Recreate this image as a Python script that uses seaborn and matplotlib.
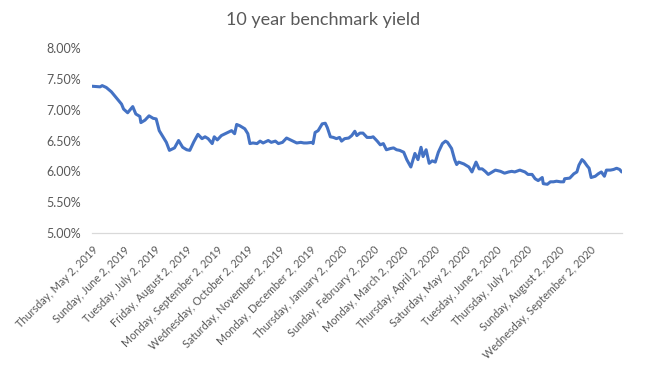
import pandas as pd
import numpy as np
import matplotlib
matplotlib.use("Agg")
import matplotlib.pyplot as plt
import seaborn as sns

start_date = "2019-05-02"
day_offset = [0, 8, 10, 14, 19, 24, 29, 31, 35, 40, 43, 47, 48, 52, 56, 60, 63, 66, 70, 73,
              76, 81, 85, 89, 93, 96, 100, 104, 108, 111, 114, 118, 120, 123, 127, 132, 137, 140, 142, 145,
              150, 153, 155, 158, 162, 165, 168, 173, 176, 180, 183, 187, 191, 196, 201, 205, 208, 211, 216, 217,
              219, 222, 226, 229, 231, 234, 237, 240, 243, 245, 248, 252, 255, 258, 260, 263, 266, 270, 274, 276,
              280, 283, 286, 289, 293, 296, 299, 302, 306, 309, 313, 317, 320, 323, 325, 328, 331, 334, 337, 340,
              344, 347, 349, 353, 356, 358, 360, 365, 370, 373, 377, 380, 383, 386, 389, 393, 396, 401, 405, 409,
              412, 415, 420, 425, 428, 432, 435, 438, 442, 443, 447, 450, 453, 456, 460, 463, 464, 469, 473, 476,
              478, 481, 483, 486, 488, 490, 494, 497, 500, 503, 505, 509, 512, 515, 518, 520]
yield_pct = [7.38, 7.37, 7.39, 7.36, 7.29, 7.19, 7.09, 7.01, 6.95, 7.05, 6.93, 6.89, 6.79, 6.83, 6.90, 6.86, 6.85, 6.66, 6.55, 6.47,
             6.34, 6.38, 6.50, 6.39, 6.35, 6.34, 6.48, 6.60, 6.53, 6.56, 6.53, 6.45, 6.56, 6.51, 6.58, 6.62, 6.66, 6.61, 6.76, 6.74,
             6.69, 6.61, 6.45, 6.46, 6.45, 6.49, 6.46, 6.50, 6.47, 6.49, 6.45, 6.47, 6.54, 6.50, 6.46, 6.47, 6.46, 6.46, 6.47, 6.45,
             6.63, 6.66, 6.77, 6.78, 6.71, 6.56, 6.55, 6.53, 6.55, 6.49, 6.53, 6.54, 6.58, 6.65, 6.58, 6.62, 6.62, 6.55, 6.55, 6.56,
             6.49, 6.43, 6.45, 6.35, 6.37, 6.38, 6.35, 6.34, 6.31, 6.19, 6.07, 6.29, 6.19, 6.39, 6.24, 6.35, 6.13, 6.17, 6.15, 6.31,
             6.45, 6.49, 6.47, 6.37, 6.19, 6.11, 6.15, 6.12, 6.07, 5.99, 6.15, 6.04, 6.04, 6.00, 5.95, 5.99, 6.02, 6.00, 5.97, 5.99,
             6.00, 5.99, 6.02, 5.99, 5.95, 5.95, 5.88, 5.85, 5.90, 5.80, 5.79, 5.83, 5.83, 5.84, 5.83, 5.83, 5.88, 5.89, 5.96, 5.99,
             6.10, 6.19, 6.16, 6.09, 6.05, 5.90, 5.92, 5.96, 5.99, 5.92, 6.02, 6.02, 6.03, 6.05, 6.03, 5.99]

tick_dates = ["2019-05-02", "2019-06-02", "2019-07-02", "2019-08-02", "2019-09-02", "2019-10-02",
              "2019-11-02", "2019-12-02", "2020-01-02", "2020-02-02", "2020-03-02", "2020-04-02",
              "2020-05-02", "2020-06-02", "2020-07-02", "2020-08-02", "2020-09-02"]
tick_labels = ["Thursday, May 2, 2019", "Sunday, June 2, 2019", "Tuesday, July 2, 2019",
               "Friday, August 2, 2019", "Monday, September 2, 2019", "Wednesday, October 2, 2019",
               "Saturday, November 2, 2019", "Monday, December 2, 2019", "Thursday, January 2, 2020",
               "Sunday, February 2, 2020", "Monday, March 2, 2020", "Thursday, April 2, 2020",
               "Saturday, May 2, 2020", "Tuesday, June 2, 2020", "Thursday, July 2, 2020",
               "Sunday, August 2, 2020", "Wednesday, September 2, 2020"]
y_ticks = [5.0, 5.5, 6.0, 6.5, 7.0, 7.5, 8.0]
title = "10 year benchmark yield"

dates = pd.Timestamp(start_date) + pd.to_timedelta(day_offset, unit="D")
df = pd.DataFrame({"date": dates, "yield": yield_pct})

sns.set_theme(style="white")
plt.rcParams["font.family"] = ["Lato", "DejaVu Sans"]
text_color = "#595959"

fig = plt.figure(figsize=(6.46, 3.70), dpi=100)
ax = fig.add_axes([92 / 646, 1 - 233 / 370, (621.7 - 92) / 646, (233 - 48) / 370])

sns.lineplot(data=df, x="date", y="yield", ax=ax, color="#4472C4", linewidth=2.2)

ax.set_xlim(pd.Timestamp(start_date), dates[-1])
ax.set_ylim(5.0, 8.0)
ax.set_yticks(y_ticks)
ax.set_yticklabels([f"{v:.2f}%" for v in y_ticks], color=text_color, fontsize=9)
ax.set_xticks(pd.to_datetime(tick_dates))
ax.set_xticklabels(tick_labels, rotation=45, ha="right", rotation_mode="anchor",
                   color=text_color, fontsize=7.8)
ax.tick_params(axis="x", length=4, width=0.8, color="#D9D9D9", direction="out", pad=4)
ax.tick_params(axis="y", length=0, pad=8)
ax.set_xlabel("")
ax.set_ylabel("")
for s in ["top", "right", "left"]:
    ax.spines[s].set_visible(False)
ax.spines["bottom"].set_color("#D9D9D9")
ax.spines["bottom"].set_linewidth(0.9)
ax.grid(False)

fig.text(323 / 646, 1 - 20 / 370, title, ha="center", va="center", fontsize=13, color=text_color)

fig.savefig("out.png", dpi=100)
